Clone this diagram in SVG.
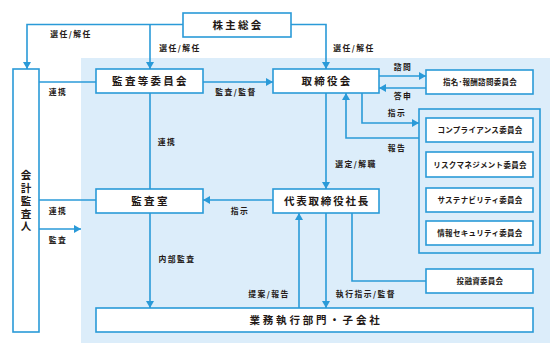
<svg xmlns="http://www.w3.org/2000/svg" width="556" height="359" viewBox="0 0 556 359">
<defs>
<style>
.box{fill:#fff;stroke:#2a9ad8;stroke-width:1.6}
.grp{fill:none;stroke:#2a9ad8;stroke-width:1.6}
.ln{fill:none;stroke:#2a9ad8;stroke-width:1.6}
.arr{marker-end:url(#ah)}
.t{font-family:"Noto Sans CJK JP","Noto Sans",sans-serif;font-weight:700;fill:#231815;text-anchor:middle}
.big{font-size:10.5px;letter-spacing:2.3px}
.lbl{font-size:7.8px;letter-spacing:1.5px}
.sm{font-size:7.5px;letter-spacing:0.3px}
</style>
<marker id="ah" viewBox="0 0 7 8" markerWidth="7" markerHeight="8" refX="7" refY="4" orient="auto" markerUnits="userSpaceOnUse">
<path d="M0,0 L7,4 L0,8 z" fill="#2a9ad8"/>
</marker>
</defs>
<rect x="81" y="58" width="469" height="285" fill="#dcedfa"/>
<g id="connectors">
<path class="ln arr" d="M183,24.5 H27 V69"/>
<path class="ln arr" d="M150,24.5 V69"/>
<path class="ln arr" d="M291,24.5 H326 V69"/>
<path class="ln" d="M39,82 H96"/>
<path class="ln arr" d="M203,82 H273"/>
<path class="ln" d="M150,93 V189"/>
<path class="ln arr" d="M379,76 H426"/>
<path class="ln arr" d="M426,88 H379"/>
<path class="ln arr" d="M362,93 V123 H419"/>
<path class="ln arr" d="M419,138 H346 V93"/>
<path class="ln arr" d="M326,93 V189"/>
<path class="ln arr" d="M273,200 H203"/>
<path class="ln" d="M39,200 H96"/>
<path class="ln arr" d="M39,229 H81"/>
<path class="ln arr" d="M150,213 V308"/>
<path class="ln arr" d="M299,308 V213"/>
<path class="ln arr" d="M326,213 V308"/>
<path class="ln" d="M352,213 V281 H426"/>
<text class="t lbl" x="71" y="36.8">選任/解任</text>
<text class="t lbl" x="180" y="50.8">選任/解任</text>
<text class="t lbl" x="354" y="50.8">選任/解任</text>
<text class="t lbl" x="58" y="94.8">連携</text>
<text class="t lbl" x="236" y="94.8">監査/監督</text>
<text class="t lbl" x="167" y="144.8">連携</text>
<text class="t lbl" x="403" y="69.8">諮問</text>
<text class="t lbl" x="403" y="98.8">答申</text>
<text class="t lbl" x="397" y="115.8">指示</text>
<text class="t lbl" x="397" y="150.8">報告</text>
<text class="t lbl" x="356" y="166.8">選定/解職</text>
<text class="t lbl" x="240" y="213.8">指示</text>
<text class="t lbl" x="58" y="213.8">連携</text>
<text class="t lbl" x="58" y="242.8">監査</text>
<text class="t lbl" x="177" y="261.8">内部監査</text>
<text class="t lbl" x="269" y="296.8">提案/報告</text>
<text class="t lbl" x="366" y="296.8">執行指示/監督</text>
</g>
<g id="shareholders">
<rect class="box" x="183" y="13" width="108" height="24"/>
<text class="t big" x="238" y="29">株主総会</text>
</g>
<g id="auditor">
<rect class="box" x="13" y="69" width="26" height="263"/>
<text class="t" style="font-size:10.5px;letter-spacing:2.3px;writing-mode:vertical-rl" x="26" y="202">会計監査人</text>
</g>
<g id="audit-committee">
<rect class="box" x="96" y="69" width="107" height="24"/>
<text class="t big" x="150.5" y="85">監査等委員会</text>
</g>
<g id="board">
<rect class="box" x="273" y="69" width="106" height="24"/>
<text class="t big" x="327" y="85">取締役会</text>
</g>
<g id="nomination">
<rect class="box" x="426" y="70" width="107" height="24"/>
<text class="t sm" x="480" y="85">指名･報酬諮問委員会</text>
</g>
<g id="committees">
<rect class="grp" x="419" y="109" width="121" height="144"/>
<rect class="box" x="426" y="118" width="107" height="24"/>
<text class="t sm" x="480" y="133">コンプライアンス委員会</text>
<rect class="box" x="426" y="152" width="107" height="25"/>
<text class="t sm" x="480" y="167.5">リスクマネジメント委員会</text>
<rect class="box" x="426" y="188" width="107" height="24"/>
<text class="t sm" x="480" y="203">サステナビリティ委員会</text>
<rect class="box" x="426" y="221" width="107" height="24"/>
<text class="t sm" x="480" y="236">情報セキュリティ委員会</text>
</g>
<g id="audit-office">
<rect class="box" x="96" y="189" width="107" height="24"/>
<text class="t big" x="150.5" y="205">監査室</text>
</g>
<g id="president">
<rect class="box" x="273" y="189" width="106" height="24"/>
<text class="t big" style="letter-spacing:1.8px" x="327" y="205">代表取締役社長</text>
</g>
<g id="investment">
<rect class="box" x="426" y="269" width="107" height="24"/>
<text class="t sm" x="480" y="284">投融資委員会</text>
</g>
<g id="operations">
<rect class="box" x="96" y="308" width="437" height="24"/>
<text class="t big" style="letter-spacing:2.8px" x="316" y="324">業務執行部門・子会社</text>
</g>
</svg>
